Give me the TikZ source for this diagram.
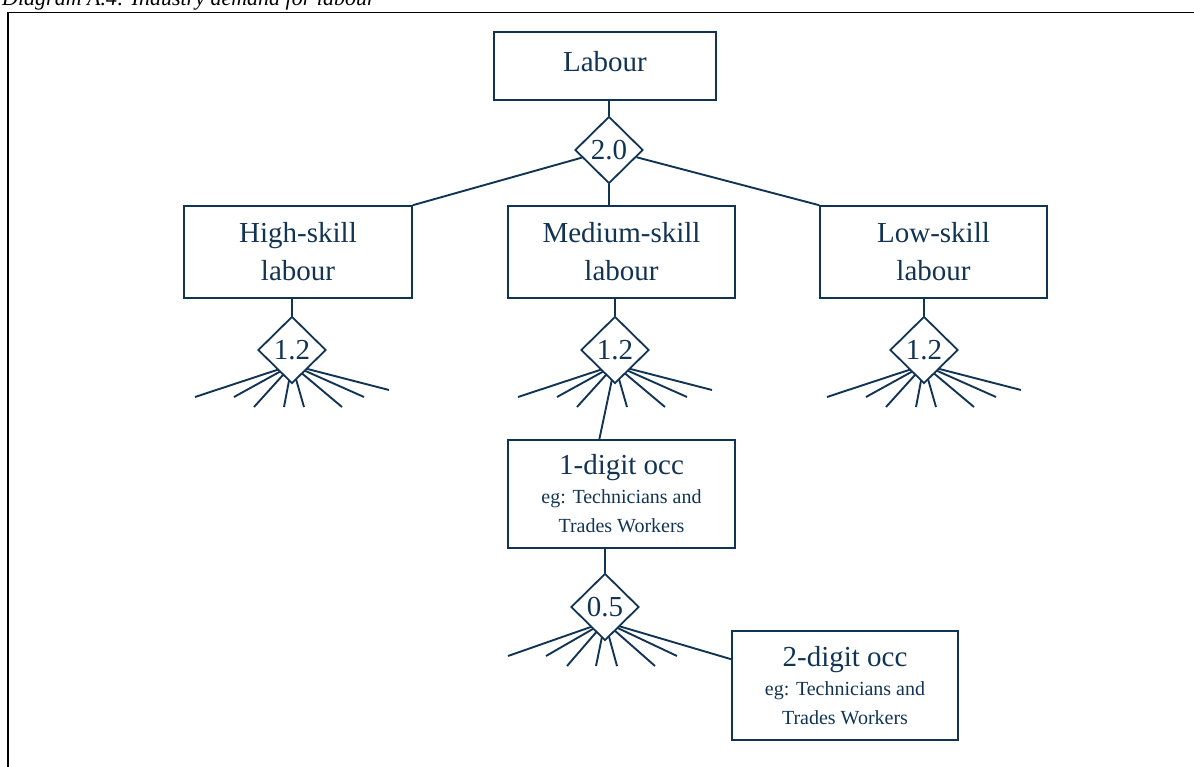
\documentclass[tikz,border=0pt]{standalone}
\usepackage{fontspec}
\setmainfont{Liberation Serif}
\usetikzlibrary{shapes.geometric,backgrounds}
\definecolor{navy}{RGB}{18,52,84}

% roots below an elasticity diamond: node, list of end points
\newcommand\roots[2]{%
  \foreach \dx/\dy in {#2}
    \draw[link] ([yshift=-15pt]#1.center) -- ++(\dx,{\dy-15});}

\begin{document}
\begin{tikzpicture}[
  x=1pt,y=-1pt,
  box/.style={draw=navy,line width=1.6pt,text=navy,align=center,inner sep=0pt,
    minimum width=227pt,minimum height=92pt,font=\fontsize{29}{38}\selectfont},
  occbox/.style={box,minimum height=108pt,font=\fontsize{20}{29}\selectfont},
  elas/.style={diamond,aspect=1,draw=navy,line width=1.8pt,fill=white,text=navy,
    inner sep=0pt,minimum width=68pt,minimum height=67pt,font=\fontsize{29}{34}\selectfont},
  link/.style={draw=navy,line width=1.9pt}
]
\useasboundingbox (0,0) rectangle (1194,767);

\node[anchor=base west,inner sep=0pt,font=\itshape\fontsize{22}{26}\selectfont] (title) at (2,6)
  {Diagram A.4: Industry demand for labour};
\draw[line width=1.8pt] (8,767) -- (8,12.5) -- (1194,12.5);

\node[box,minimum width=222pt,minimum height=68pt,text depth=10pt] (labour) at (605,66) {Labour};
\node[elas] (d20) at (609,150) {2.0};

\node[box,minimum width=228pt] (high) at (298,252) {High-skill\\labour};
\node[box] (med)  at (621.5,252) {Medium-skill\\labour};
\node[box] (low)  at (933.5,252) {Low-skill\\labour};

\node[elas] (d12a) at (292,350) {1.2};
\node[elas] (d12b) at (615,350) {1.2};
\node[elas] (d12c) at (924,350) {1.2};

\node[occbox] (occ1) at (621.5,494)
  {{\fontsize{29}{29}\selectfont 1-digit occ}\\eg: Technicians and\\Trades Workers};
\node[elas] (d05) at (605,607) {0.5};
\node[occbox,minimum width=226pt,minimum height=109pt] (occ2) at (845,685.5)
  {{\fontsize{29}{29}\selectfont 2-digit occ}\\eg: Technicians and\\Trades Workers};

\draw[link] (labour.south -| d20) -- (d20.north);
\draw[link] (d20) -- (high.north east);
\draw[link] (d20) -- (low.north west);
\draw[link] (d20.south) -- (med.north -| d20);
\draw[link] (high.south -| d12a) -- (d12a.north);
\draw[link] (med.south -| d12b) -- (d12b.north);
\draw[link] (low.south -| d12c) -- (d12c.north);
\draw[link] (occ1.south -| d05) -- (d05.north);

\begin{scope}[on background layer]
  \roots{d12a}{-97/47,-58/47,-38/57,-8/57,12/57,50/57,72/47,97/40}
  \roots{d12b}{-97/47,-58/47,-38/57,12/57,50/57,72/47,97/40}
  \roots{d12c}{-97/47,-58/47,-38/57,-8/57,12/57,50/57,72/47,97/40}
  \roots{d05}{-97/49,-59/49,-38/59,-9/59,12/59,50/59,72/49}
  \draw[link] ([yshift=-15pt]d12b.center) -- (occ1.112);
  \draw[link] ([yshift=-15pt]d05.center) -- (occ2.167);
\end{scope}
\end{tikzpicture}
\end{document}
